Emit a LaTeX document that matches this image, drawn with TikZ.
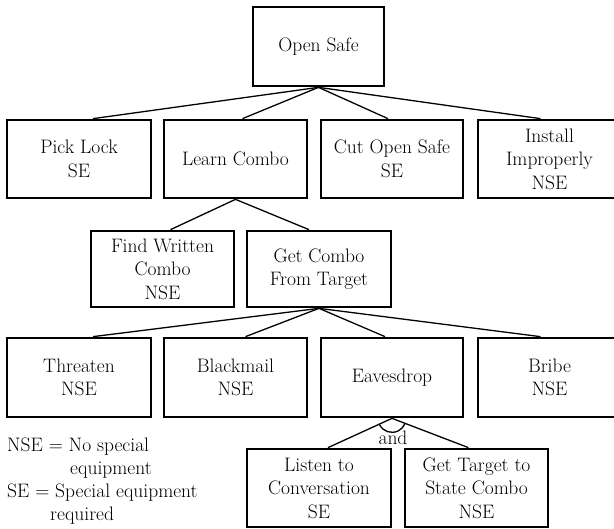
\documentclass[tikz,border=0pt]{standalone}
\newcommand{\diafont}{\fontsize{19.5}{23.5}\selectfont}
\begin{document}
\begin{tikzpicture}[x=1pt,y=-1pt,
  box/.style={draw, line width=2.7pt, rectangle, minimum width=#1,
    minimum height=78pt, align=center, inner sep=0pt, font=\diafont},
  box/.default=143pt,
  link/.style={line width=1.3pt},
  legend/.style={anchor=base west, inner sep=0pt, font=\diafont}]
\useasboundingbox (0,0) rectangle (614,529);

% top
\node[box=131pt, minimum height=79pt] (safe) at (318.5,46.5) {Open Safe};
% row 1
\node[box=144pt] (pick) at (79,159) {Pick Lock\\SE};
\node[box] (learn) at (235.5,159) {Learn Combo};
\node[box=142pt] (cut) at (392,159) {Cut Open Safe\\SE};
\node[box] (install) at (549.5,159) {Install\\Improperly\\NSE};
% row 2
\node[box, minimum height=76pt] (find) at (162.5,269) {Find Written\\Combo\\NSE};
\node[box=144pt, minimum height=76pt] (getcombo) at (319,269) {Get Combo\\From Target};
% row 3
\node[box=144pt, minimum height=79pt] (threaten) at (79,377.5) {Threaten\\NSE};
\node[box, minimum height=79pt] (blackmail) at (235.5,377.5) {Blackmail\\NSE};
\node[box=142pt, minimum height=79pt] (eaves) at (392,377.5) {Eavesdrop};
\node[box, minimum height=79pt] (bribe) at (549.5,377.5) {Bribe\\NSE};
% row 4
\node[box=144pt] (listen) at (319,488) {Listen to\\Conversation\\SE};
\node[box] (gettarget) at (476.5,488) {Get Target to\\State Combo\\NSE};

% connectors
\draw[link] (safe.south) -- ([xshift=14pt]pick.north);
\draw[link] (safe.south) -- ([xshift=7pt]learn.north);
\draw[link] (safe.south) -- ([xshift=-4pt]cut.north);
\draw[link] (safe.south) -- ([xshift=-9pt]install.north);

\draw[link] (learn.south) -- ([xshift=8pt]find.north);
\draw[link] (learn.south) -- ([xshift=-10pt]getcombo.north);

\draw[link] (getcombo.south) -- ([xshift=14pt]threaten.north);
\draw[link] (getcombo.south) -- ([xshift=10pt]blackmail.north);
\draw[link] (getcombo.south) -- ([xshift=-7pt]eaves.north);
\draw[link] (getcombo.south) -- ([xshift=-9pt]bribe.north);

\draw[link] (eaves.south) -- ([xshift=9pt]listen.north);
\draw[link] (eaves.south) -- ([xshift=-8pt]gettarget.north);

% and-arc
\draw[link] ([shift={(-12.52,6.27)}]eaves.south) arc[start angle=206.6, end angle=337.2, radius=14pt];
\node[inner sep=0pt, anchor=base, font=\diafont] (andlbl) at (393,445) {and};

% legend
\node[legend] (l1) at (7,452) {NSE = No special};
\node[legend] (l2) at (70,475) {equipment};
\node[legend] (l3) at (7,498) {SE = Special equipment};
\node[legend] (l4) at (50,521) {required};
\end{tikzpicture}
\end{document}
